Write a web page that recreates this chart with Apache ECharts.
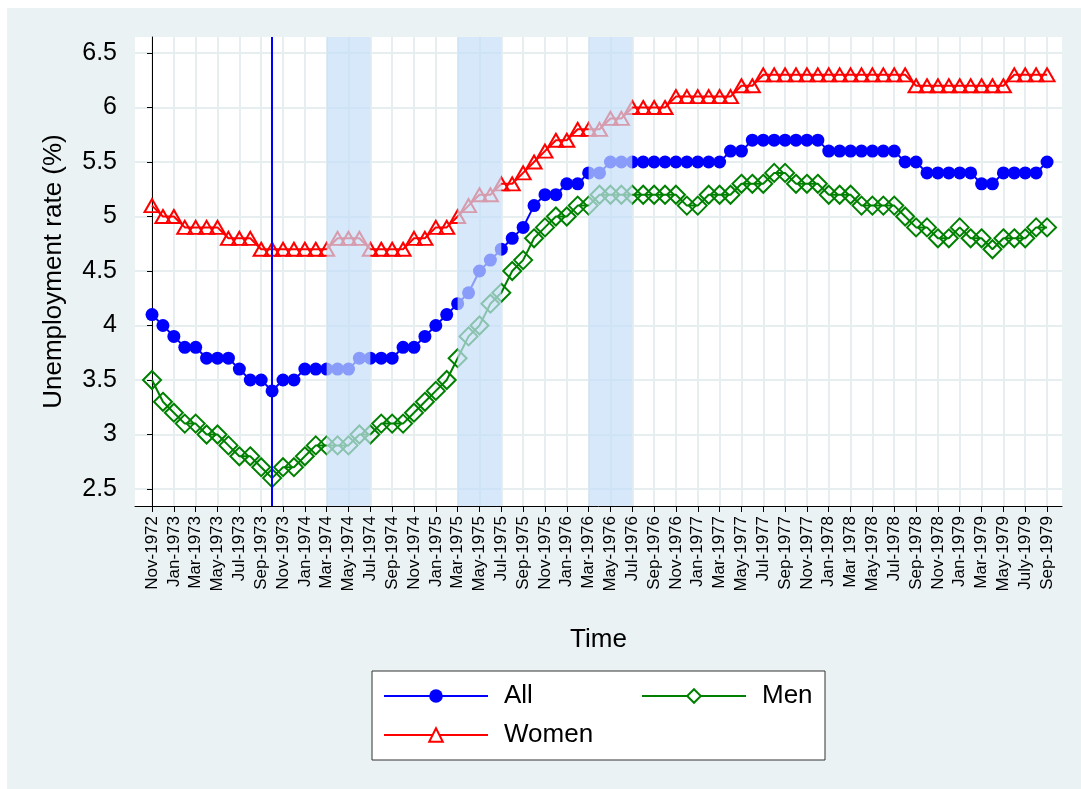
<!DOCTYPE html>
<html lang="en">
<head>
<meta charset="UTF-8">
<title>Unemployment rate</title>
<script src="https://cdn.jsdelivr.net/npm/echarts@6/dist/echarts.min.js"></script>
<style>
  html, body { margin: 0; padding: 0; background: #fff; }
  #main { position: absolute; left: 7px; top: 8px; width: 1074px; height: 781px; }
</style>
</head>
<body>
<div id="main"></div>
<script>
// monthly, Nov-1972 .. Sep-1979 (index 0..82), one label every 2 months
var tickLabels = ['Nov-1972','Jan-1973','Mar-1973','May-1973','Jul-1973','Sep-1973','Nov-1973',
  'Jan-1974','Mar-1974','May-1974','Jul-1974','Sep-1974','Nov-1974',
  'Jan-1975','Mar-1975','May-1975','Jul-1975','Sep-1975','Nov-1975',
  'Jan-1976','Mar-1976','May-1976','Jul-1976','Sep-1976','Nov-1976',
  'Jan-1977','Mar-1977','May-1977','Jul-1977','Sep-1977','Nov-1977',
  'Jan-1978','Mar 1978','May-1978','Jul-1978','Sep-1978','Nov-1978',
  'Jan-1979','Mar-1979','May-1979','July-1979','Sep-1979'];

var allRate = [4.1,4.0,3.9,3.8,3.8,3.7,3.7,3.7,3.6,3.5,
  3.5,3.4,3.5,3.5,3.6,3.6,3.6,3.6,3.6,3.7,
  3.7,3.7,3.7,3.8,3.8,3.9,4.0,4.1,4.2,4.3,
  4.5,4.6,4.7,4.8,4.9,5.1,5.2,5.2,5.3,5.3,
  5.4,5.4,5.5,5.5,5.5,5.5,5.5,5.5,5.5,5.5,
  5.5,5.5,5.5,5.6,5.6,5.7,5.7,5.7,5.7,5.7,
  5.7,5.7,5.6,5.6,5.6,5.6,5.6,5.6,5.6,5.5,
  5.5,5.4,5.4,5.4,5.4,5.4,5.3,5.3,5.4,5.4,
  5.4,5.4,5.5];

var womenRate = [5.1,5.0,5.0,4.9,4.9,4.9,4.9,4.8,4.8,4.8,
  4.7,4.7,4.7,4.7,4.7,4.7,4.7,4.8,4.8,4.8,
  4.7,4.7,4.7,4.7,4.8,4.8,4.9,4.9,5.0,5.1,
  5.2,5.2,5.3,5.3,5.4,5.5,5.6,5.7,5.7,5.8,
  5.8,5.8,5.9,5.9,6.0,6.0,6.0,6.0,6.1,6.1,
  6.1,6.1,6.1,6.1,6.2,6.2,6.3,6.3,6.3,6.3,
  6.3,6.3,6.3,6.3,6.3,6.3,6.3,6.3,6.3,6.3,
  6.2,6.2,6.2,6.2,6.2,6.2,6.2,6.2,6.2,6.3,
  6.3,6.3,6.3];

var menRate = [3.5,3.3,3.2,3.1,3.1,3.0,3.0,2.9,2.8,2.8,
  2.7,2.6,2.7,2.7,2.8,2.9,2.9,2.9,2.9,3.0,
  3.0,3.1,3.1,3.1,3.2,3.3,3.4,3.5,3.7,3.9,
  4.0,4.2,4.3,4.5,4.6,4.8,4.9,5.0,5.0,5.1,
  5.1,5.2,5.2,5.2,5.2,5.2,5.2,5.2,5.2,5.1,
  5.1,5.2,5.2,5.2,5.3,5.3,5.3,5.4,5.4,5.3,
  5.3,5.3,5.2,5.2,5.2,5.1,5.1,5.1,5.1,5.0,
  4.9,4.9,4.8,4.8,4.9,4.8,4.8,4.7,4.8,4.8,
  4.8,4.9,4.9];

var yTicks = [2.5, 3, 3.5, 4, 4.5, 5, 5.5, 6, 6.5];
var shadedSpans = [[16, 20], [28, 32], [40, 44]];  // Mar-Jul 1974/75/76
var eventMonth = 11;  // Oct-1973

function pairs(arr) {
  return arr.map(function (v, i) { return [i, v]; });
}
var xTicks = tickLabels.map(function (l, i) { return i * 2; });

var font = '"Liberation Sans", Arial, sans-serif';
var chart = echarts.init(document.getElementById('main'));

function legendAt(name, left, top, fill) {
  return {
    data: [name], left: left, top: top, padding: 0,
    itemWidth: 104, itemHeight: 17,
    selectedMode: false,
    itemStyle: { color: fill },
    textStyle: { fontSize: 26, color: '#000', fontFamily: font, lineHeight: 26, padding: [0, 0, 0, 11] }
  };
}

var option = {
  animation: false,
  backgroundColor: '#eaf2f3',
  textStyle: { fontFamily: font },
  grid: { left: 128, top: 29, right: 19, bottom: 283, show: true, backgroundColor: '#fff', borderWidth: 0 },
  graphic: [{
    type: 'rect',
    shape: { x: 365, y: 663, width: 453, height: 89 },
    style: { fill: '#fff', stroke: '#333', lineWidth: 1 }
  }],
  legend: [
    legendAt('All', 376, 675, '#0000ff'),
    legendAt('Men', 634, 675, '#fff'),
    legendAt('Women', 376, 714, '#fff')
  ],
  xAxis: {
    type: 'value', min: -1.56, max: 83.37,
    name: 'Time', nameLocation: 'middle', nameGap: 121,
    nameTextStyle: { fontSize: 26, color: '#000' },
    axisLine: { lineStyle: { color: '#000', width: 1 } },
    axisTick: { show: true, length: 6, customValues: xTicks, lineStyle: { color: '#000' } },
    axisLabel: {
      customValues: xTicks, rotate: 90, margin: 10, fontSize: 17, color: '#000',
      formatter: function (v) { return tickLabels[Math.round(v / 2)]; }
    },
    splitLine: { show: true, lineStyle: { color: '#e6eef0', width: 2 } }
  },
  yAxis: {
    type: 'value', min: 2.344, max: 6.647,
    name: 'Unemployment rate (%)', nameLocation: 'middle', nameGap: 68,
    nameTextStyle: { fontSize: 26, color: '#000' },
    axisLine: { show: true, lineStyle: { color: '#000', width: 1 } },
    axisTick: { show: true, length: 5, customValues: yTicks, lineStyle: { color: '#000' } },
    axisLabel: {
      customValues: yTicks, margin: 18, fontSize: 25, color: '#000',
      formatter: function (v) { return String(v); }
    },
    splitLine: { show: true, lineStyle: { color: '#e6eef0', width: 2 } }
  },
  series: [
    {
      name: 'All', type: 'line', data: pairs(allRate),
      symbol: 'circle', symbolSize: 13, showAllSymbol: true,
      lineStyle: { color: '#0000ff', width: 2 },
      itemStyle: { color: '#0000ff' },
      markLine: {
        silent: true, symbol: 'none', label: { show: false },
        lineStyle: { color: '#0000ff', width: 2, type: 'solid' },
        data: [{ xAxis: eventMonth }]
      }
    },
    {
      name: 'Women', type: 'line', data: pairs(womenRate),
      symbol: 'triangle', symbolSize: [15, 13], showAllSymbol: true,
      lineStyle: { color: '#ff0000', width: 2 },
      itemStyle: { color: 'rgba(0,0,0,0)', borderColor: '#ff0000', borderWidth: 2 }
    },
    {
      name: 'Men', type: 'line', data: pairs(menRate),
      symbol: 'diamond', symbolSize: 18, showAllSymbol: true,
      lineStyle: { color: '#008000', width: 2 },
      itemStyle: { color: 'rgba(0,0,0,0)', borderColor: '#008000', borderWidth: 2 }
    },
    {
      name: 'shade', type: 'line', data: [], silent: true,
      markArea: {
        z: 10, silent: true,
        itemStyle: { color: 'rgba(196,222,248,0.7)' },
        data: shadedSpans.map(function (s) { return [{ xAxis: s[0] }, { xAxis: s[1] }]; })
      }
    }
  ]
};
chart.setOption(option);
</script>
</body>
</html>
